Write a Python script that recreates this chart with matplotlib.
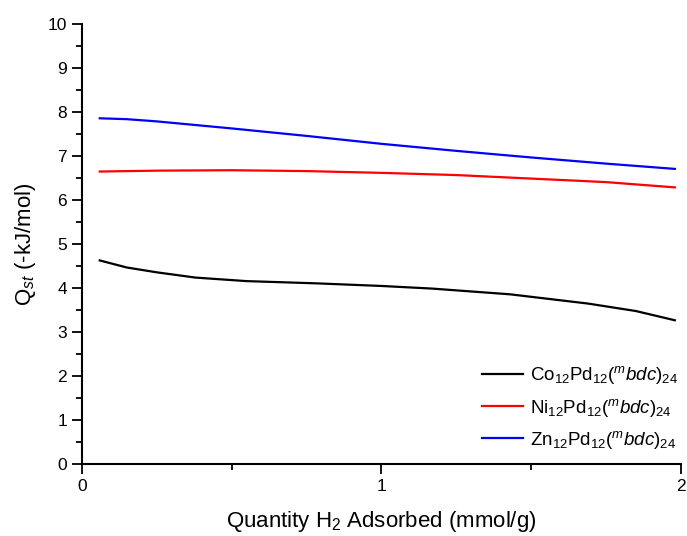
import numpy as np
import matplotlib
matplotlib.use("Agg")
import matplotlib.pyplot as plt
from matplotlib.ticker import MultipleLocator

plt.rcParams['font.family'] = ['Liberation Sans', 'DejaVu Sans']
plt.rcParams['mathtext.fontset'] = 'custom'
plt.rcParams['mathtext.rm'] = 'Liberation Sans'
plt.rcParams['mathtext.it'] = 'Liberation Sans:italic'
plt.rcParams['mathtext.bf'] = 'Liberation Sans:bold'

# Data (approximate)
co_x = [0.06, 0.15, 0.25, 0.38, 0.55, 0.78, 1.0, 1.17, 1.43, 1.69, 1.85, 1.98]
co_y = [4.63, 4.47, 4.36, 4.24, 4.16, 4.11, 4.05, 3.99, 3.86, 3.65, 3.48, 3.27]

ni_x = [0.06, 0.25, 0.5, 0.75, 1.0, 1.25, 1.5, 1.75, 1.98]
ni_y = [6.65, 6.67, 6.68, 6.66, 6.62, 6.57, 6.49, 6.41, 6.29]

zn_x = [0.06, 0.15, 0.25, 0.5, 0.75, 1.0, 1.25, 1.5, 1.75, 1.98]
zn_y = [7.86, 7.84, 7.79, 7.63, 7.46, 7.28, 7.12, 6.97, 6.83, 6.71]

labels = [r'Co$_{12}$Pd$_{12}$($^{m}\mathit{bdc}$)$_{24}$',
          r'Ni$_{12}$Pd$_{12}$($^{m}\mathit{bdc}$)$_{24}$',
          r'Zn$_{12}$Pd$_{12}$($^{m}\mathit{bdc}$)$_{24}$']
colors = ['black', 'red', 'blue']

fig = plt.figure(figsize=(6.87, 5.36), dpi=100)
ax = fig.add_axes([0.119, 0.134, 0.872, 0.821])

for xs, ys, c, lab in zip([co_x, ni_x, zn_x], [co_y, ni_y, zn_y], colors, labels):
    ax.plot(xs, ys, color=c, lw=1.6, label=lab, solid_joinstyle='round')

ax.set_xlim(0, 2)
ax.set_ylim(0, 10)
ax.xaxis.set_major_locator(MultipleLocator(1))
ax.xaxis.set_minor_locator(MultipleLocator(0.5))
ax.yaxis.set_major_locator(MultipleLocator(1))
ax.yaxis.set_minor_locator(MultipleLocator(0.5))
ax.tick_params(which='major', direction='out', length=7, width=1.3, labelsize=12.5)
ax.tick_params(which='minor', direction='out', length=4, width=1.3)
ax.spines['top'].set_visible(False)
ax.spines['right'].set_visible(False)
ax.spines['left'].set_linewidth(1.5)
ax.spines['bottom'].set_linewidth(1.5)

ax.set_xlabel(r'Quantity H$_{2}$ Adsorbed (mmol/g)', fontsize=16, labelpad=11)
ax.set_ylabel(r'Q$_{st}$ (-kJ/mol)', fontsize=16, labelpad=7)

ax.legend(loc='lower right', frameon=False, fontsize=13.5, handlelength=2.2,
          handletextpad=0.35, labelspacing=0.55, borderaxespad=0.3,
          bbox_to_anchor=(1.017, 0.0))

fig.savefig('out.png', dpi=100)
